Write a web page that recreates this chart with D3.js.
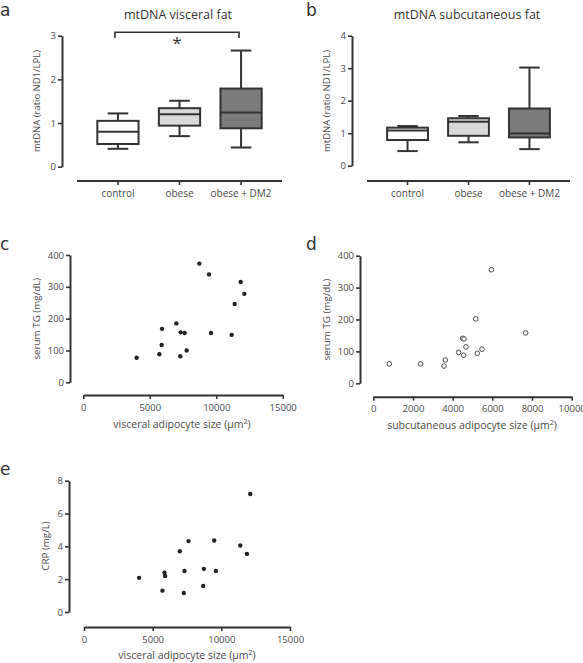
<!DOCTYPE html>
<html><head><meta charset="utf-8">
<script src="https://cdn.jsdelivr.net/npm/d3@7/dist/d3.min.js"></script>
<style>
body{margin:0;background:#fff;}
svg{display:block;font-family:"Open Sans",sans-serif;}
</style></head>
<body><svg id="c" width="583" height="663"></svg>
<script>
// ---- data ----
const groups = ["control", "obese", "obese + DM2"];
const groupFills = ["#ffffff", "#d9d9d9", "#7b7b7b"];
// box stats: [whiskerLow, q1, median, q3, whiskerHigh]
const visceralBoxes = [
  [0.41, 0.52, 0.80, 1.05, 1.22],
  [0.70, 0.94, 1.20, 1.34, 1.51],
  [0.44, 0.88, 1.24, 1.79, 2.66]
];
const subcutBoxes = [
  [0.45, 0.79, 1.08, 1.17, 1.22],
  [0.72, 0.92, 1.35, 1.46, 1.53],
  [0.51, 0.87, 0.99, 1.76, 3.02]
];
const visceralTicks = [0, 1, 2, 3];
const subcutTicks = [0, 1, 2, 3, 4];

const visSizeTG = [4013, 5719, 5895, 5920, 6998, 7299, 7324, 7625, 7776, 8729, 9457, 9607, 11162, 11388, 11839, 12115];
const serumTG_c = [77, 88, 117, 168, 185, 82, 157, 155, 100, 373, 339, 155, 149, 246, 315, 278];

const subSize = [807, 2387, 3563, 3630, 4303, 4504, 4571, 4555, 4672, 5160, 5244, 5479, 5950, 7681];
const serumTG_d = [61, 61, 54, 73, 97, 141, 139, 88, 114, 202, 94, 107, 356, 158];

const visSizeCRP = [4011, 5713, 5859, 5908, 6977, 7269, 7318, 7609, 8679, 8728, 9481, 9603, 11377, 11863, 12106];
const crp = [2.08, 1.30, 2.40, 2.20, 3.70, 1.16, 2.50, 4.32, 1.59, 2.63, 4.36, 2.50, 4.05, 3.54, 7.19];

const tgTicks = [0, 100, 200, 300, 400];
const visTicks = [0, 5000, 10000, 15000];
const subTicks = [0, 2000, 4000, 6000, 8000, 10000];
const crpTicks = [0, 2, 4, 6, 8];

// ---- drawing ----
const svg = d3.select("#c");
const TXT = "#4a4a4a", LN = "#333";

function styleAxis(g, fs) {
  g.selectAll("path.domain").attr("stroke", LN).attr("stroke-width", 2);
  g.selectAll(".tick line").attr("stroke", LN).attr("stroke-width", 1.6);
  g.selectAll(".tick text").attr("fill", TXT).style("font-family", "'Open Sans',sans-serif").style("font-size", fs + "px");
}

function yAxis(y, xPos, ticks) {
  const g = svg.append("g").attr("transform", `translate(${xPos},0)`)
    .call(d3.axisLeft(y).tickValues(ticks).tickSize(4).tickSizeOuter(0).tickPadding(2).tickFormat(d3.format("d")));
  styleAxis(g, 9.5);
  return g;
}
function xAxisLin(x, yPos, ticks) {
  const g = svg.append("g").attr("transform", `translate(0,${yPos})`)
    .call(d3.axisBottom(x).tickValues(ticks).tickSize(4).tickSizeOuter(0).tickPadding(5).tickFormat(d3.format("d")));
  styleAxis(g, 9.5);
  return g;
}
function label(txt, x, y, opts = {}) {
  const t = svg.append("text").attr("x", x).attr("y", y).attr("fill", opts.fill || TXT)
    .attr("text-anchor", opts.anchor || "middle").style("font-size", (opts.size || 10) + "px");
  if (opts.font) t.style("font-family", opts.font);
  if (opts.rot) t.attr("transform", `rotate(-90,${x},${y})`);
  return t.text(txt);
}
function xTitle(prefix, x, y) {
  const t = svg.append("text").attr("x", x).attr("y", y).attr("fill", TXT)
    .attr("text-anchor", "middle").style("font-size", "10.5px");
  t.append("tspan").text(prefix + " (\u03bcm");
  t.append("tspan").attr("dy", -4).style("font-size", "7px").text("2");
  t.append("tspan").attr("dy", 4).text(")");
}

function boxPanel(boxes, ticks, yMax, yRange, yAxisX, xRange, xAxisY) {
  const y = d3.scaleLinear().domain([0, yMax]).range(yRange);
  const x = d3.scaleBand().domain(groups).range(xRange).padding(0.33);
  yAxis(y, yAxisX, ticks);
  const xa = svg.append("g").attr("transform", `translate(0,${xAxisY})`)
    .call(d3.axisBottom(x).tickSize(4).tickSizeOuter(0).tickPadding(5));
  styleAxis(xa, 10);
  xa.select("path.domain").attr("d", `M${xRange[0]},0H${xRange[1]}`);
  boxes.forEach((b, i) => {
    const cx = x(groups[i]) + x.bandwidth() / 2, w = x.bandwidth();
    const g = svg.append("g").attr("stroke", LN).attr("stroke-width", 2).attr("fill", "none");
    g.append("line").attr("x1", cx).attr("x2", cx).attr("y1", y(b[0])).attr("y2", y(b[1]));
    g.append("line").attr("x1", cx).attr("x2", cx).attr("y1", y(b[3])).attr("y2", y(b[4]));
    g.append("line").attr("x1", cx - w / 4).attr("x2", cx + w / 4).attr("y1", y(b[0])).attr("y2", y(b[0]));
    g.append("line").attr("x1", cx - w / 4).attr("x2", cx + w / 4).attr("y1", y(b[4])).attr("y2", y(b[4]));
    g.append("rect").attr("x", cx - w / 2).attr("width", w).attr("y", y(b[3])).attr("height", y(b[1]) - y(b[3]))
      .attr("fill", groupFills[i]);
    g.append("line").attr("x1", cx - w / 2).attr("x2", cx + w / 2).attr("y1", y(b[2])).attr("y2", y(b[2]));
  });
  return { x, y };
}

function scatterPanel(xs, ys, xMax, xTicksArr, xRange, xAxisY, yMax, yTicksArr, yRange, yAxisX, open) {
  const x = d3.scaleLinear().domain([0, xMax]).range(xRange);
  const y = d3.scaleLinear().domain([0, yMax]).range(yRange);
  yAxis(y, yAxisX, yTicksArr);
  xAxisLin(x, xAxisY, xTicksArr);
  svg.append("g").selectAll("circle").data(xs).join("circle")
    .attr("cx", d => x(d)).attr("cy", (d, i) => y(ys[i]))
    .attr("r", open ? 2.3 : 2.2)
    .attr("fill", open ? "#fff" : "#222")
    .attr("stroke", open ? "#4a4a4a" : "none").attr("stroke-width", 1);
  return { x, y };
}

const LET = { anchor: "start", size: 17, fill: "#333", font: "'DejaVu Sans',sans-serif" };

// Panel a
const pa = boxPanel(visceralBoxes, visceralTicks, 3, [166.7, 35.7], 62, [77, 282], 181);
label("a", 0, 16, LET);
label("mtDNA visceral fat", 178, 19, { size: 12.5, fill: "#333" });
label("mtDNA (ratio ND1/LPL)", 40, 101, { rot: true, size: 9.5 });
{
  const x1 = pa.x(groups[0]) + pa.x.bandwidth() / 2 - 3, x2 = pa.x(groups[2]) + pa.x.bandwidth() / 2 - 2;
  svg.append("path").attr("d", `M${x1},38V32.3H${x2}V38`).attr("fill", "none").attr("stroke", LN).attr("stroke-width", 1.6);
  label("*", (x1 + x2) / 2, 49, { size: 17, fill: "#333" });
}

// Panel b
boxPanel(subcutBoxes, subcutTicks, 4, [165.7, 35.7], 352, [367, 570], 181);
label("b", 306, 16, LET);
label("mtDNA subcutaneous fat", 467, 19, { size: 12.5, fill: "#333" });
label("mtDNA (ratio ND1/LPL)", 330, 101, { rot: true, size: 9.5 });

// Panel c
scatterPanel(visSizeTG, serumTG_c, 15000, visTicks, [83.3, 282.7], 395, 400, tgTicks, [382.3, 255], 70, false);
label("c", 0, 250, LET);
label("serum TG (mg/dL)", 40, 318.7, { rot: true, size: 9.8 });
xTitle("visceral adipocyte size", 182, 428);

// Panel d
scatterPanel(subSize, serumTG_d, 10000, subTicks, [373.3, 571.7], 396.7, 400, tgTicks, [383.3, 255.7], 360, true);
label("d", 306, 250, LET);
label("serum TG (mg/dL)", 330, 319.5, { rot: true, size: 9.8 });
xTitle("subcutaneous adipocyte size", 472, 429);

// Panel e
scatterPanel(visSizeCRP, crp, 15000, visTicks, [84, 290], 627, 8, crpTicks, [612, 480.7], 69, false);
label("e", 0, 475, LET);
label("CRP (mg/L)", 49, 546, { rot: true, size: 9.8 });
xTitle("visceral adipocyte size", 187, 659);
</script></body></html>
